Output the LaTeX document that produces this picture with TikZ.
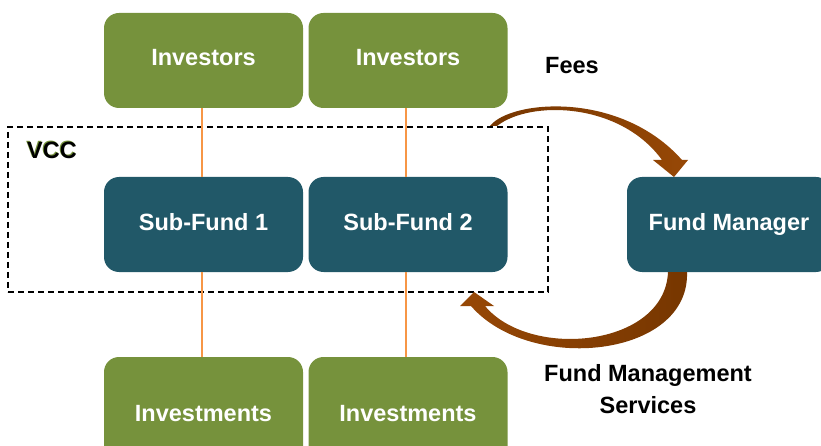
\documentclass[tikz,border=0pt]{standalone}
\usepackage{fontspec}
\setmainfont{Liberation Sans}
\definecolor{grn}{HTML}{76923C}
\definecolor{tl}{HTML}{215868}
\definecolor{org}{HTML}{F79646}
\definecolor{brn}{HTML}{974806}
\definecolor{brndark}{HTML}{763600}
\begin{document}
\begin{tikzpicture}[x=1pt,y=-1pt,
  lbl/.style={inner sep=0pt, font=\fontsize{23.5}{32}\selectfont\bfseries, text height=17pt, text depth=0pt},
  box/.style={lbl, rounded corners=15pt, minimum width=199pt, minimum height=95pt, text=white, text depth=6pt},
  greenbox/.style={box, fill=grn},
  tealbox/.style={box, fill=tl},
  link/.style={draw=org, line width=1.6pt},
  vccbox/.style={draw=black, dashed, dash pattern=on 6pt off 4pt, line width=1.1pt, minimum width=540pt, minimum height=165pt, inner sep=0pt}
]
\useasboundingbox (0,0) rectangle (821,446);
\clip (0,0) rectangle (821,446);

% VCC container
\node[vccbox] (vcc) at (278,209.5) {};
\node[lbl, text=grn] (vccglow) at (51,149) {VCC};
\node[lbl, text=black] (vcclabel) at (52,150) {VCC};

% boxes
\node[greenbox] (inv1) at (203.5,60.5) {Investors};
\node[greenbox] (inv2) at (408,60.5) {Investors};
\node[tealbox] (sf1) at (203.5,224.5) {Sub-Fund 1};
\node[tealbox] (sf2) at (408,224.5) {Sub-Fund 2};
\node[tealbox, minimum width=204pt] (fm) at (729,224.5) {Fund Manager};
\node[greenbox, minimum height=112pt, text depth=0pt] (inm1) at (203.5,413) {Investments};
\node[greenbox, minimum height=112pt, text depth=0pt] (inm2) at (408,413) {Investments};

% links
\draw[link] ([xshift=-1.5pt]inv1.south) -- ([xshift=-1.5pt]sf1.north);
\draw[link] ([xshift=-2pt]inv2.south) -- ([xshift=-2pt]sf2.north);
\draw[link] ([xshift=-1.5pt]sf1.south) -- ([xshift=-1.5pt]inm1.north);
\draw[link] ([xshift=-2pt]sf2.south) -- ([xshift=-2pt]inm2.north);

% fee flow
\shade[left color=brndark, middle color=brn!80!white, right color=brn]
  (490,126) .. controls (510,100) and (620,90) .. (682,160)
  -- (688,160) -- (674,177) -- (653,160) -- (662,160)
  .. controls (620,102) and (530,100) .. (497,126) -- cycle;
% management services flow
\shade[left color=brn, middle color=brn!80!white, right color=brndark]
  (687,272) .. controls (690,358) and (530,374) .. (471,306)
  -- (460,306) -- (474,292) -- (494,306) -- (485,306)
  .. controls (530,360) and (665,347) .. (668,272) -- cycle;

% labels
\node[lbl] (fees) at (572,65) {Fees};
\node[lbl, align=center] (fms) at (648,405) {Fund Management\\Services};
\end{tikzpicture}
\end{document}
